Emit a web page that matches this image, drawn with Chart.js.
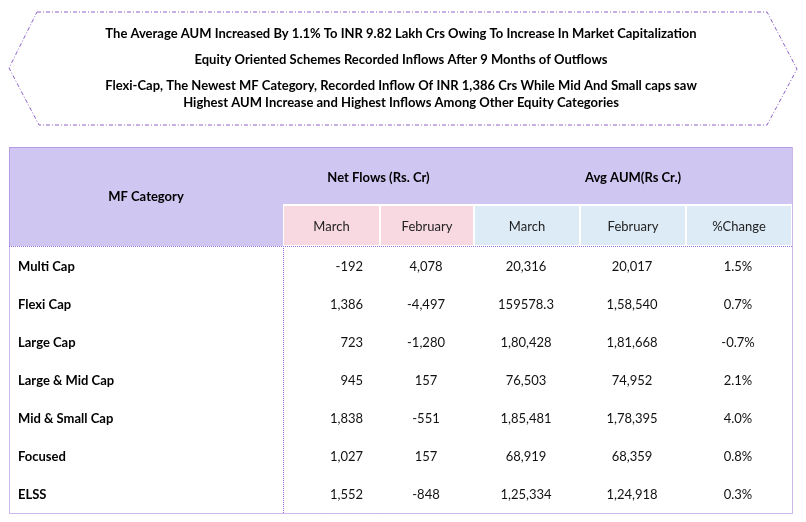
<!DOCTYPE html>
<html>
<head>
<meta charset="utf-8">
<script src="https://cdn.jsdelivr.net/npm/chart.js@4.4.1/dist/chart.umd.min.js"></script>
<style>
  html, body { margin: 0; padding: 0; background: #fff; }
  #wrap { position: relative; width: 806px; height: 522px; }
</style>
</head>
<body>
<div id="wrap"><canvas id="mfChart"></canvas></div>
<script>
// headline notes
const notes = [
  ['The Average AUM Increased By 1.1% To INR 9.82 Lakh Crs Owing To Increase In Market Capitalization'],
  ['Equity Oriented Schemes Recorded Inflows After 9 Months of Outflows'],
  ['Flexi-Cap, The Newest MF Category, Recorded Inflow Of INR 1,386 Crs While Mid And Small caps saw',
   'Highest AUM Increase and Highest Inflows Among Other Equity Categories']
];

// table data
const categories = ['Multi Cap', 'Flexi Cap', 'Large Cap', 'Large & Mid Cap', 'Mid & Small Cap', 'Focused', 'ELSS'];
const groupHeaders = ['Net Flows (Rs. Cr)', 'Avg AUM(Rs Cr.)'];
const columnHeaders = ['March', 'February', 'March', 'February', '%Change'];
const netFlowsMarch = ['-192', '1,386', '723', '945', '1,838', '1,027', '1,552'];
const netFlowsFeb = ['4,078', '-4,497', '-1,280', '157', '-551', '157', '-848'];
const aumMarch = ['20,316', '159578.3', '1,80,428', '76,503', '1,85,481', '68,919', '1,25,334'];
const aumFeb = ['20,017', '1,58,540', '1,81,668', '74,952', '1,78,395', '68,359', '1,24,918'];
const pctChange = ['1.5%', '0.7%', '-0.7%', '2.1%', '4.0%', '0.8%', '0.3%'];

// layout (x scale units)
const colEdges = [0, 97, 191, 297, 403, 509];
const colAnchor = [80, 143, 243, 349, 455];
const colAlign = ['right', 'center', 'center', 'center', 'center'];
const colFill = ['#f8d9e2', '#f8d9e2', '#ddebf6', '#ddebf6', '#ddebf6'];

const FONT = 'Lato, "Open Sans", sans-serif';
const series = [netFlowsMarch, netFlowsFeb, aumMarch, aumFeb, pctChange];
const TY = 1; // text nudge

const tablePlugin = {
  id: 'tablePlugin',
  afterDraw(chart) {
    const ctx = chart.ctx;
    const xs = chart.scales.x, ys = chart.scales.y;
    const ca = chart.chartArea;
    const L = 9, R = xs.getPixelForValue(colEdges[5]);
    const top = ca.top - 100, subTop = ca.top - 41, hdrBottom = ca.top - 1;
    ctx.save();

    // banner hexagon
    ctx.strokeStyle = '#9060c8';
    ctx.lineWidth = 1;
    ctx.setLineDash([4, 2, 1, 2]);
    ctx.beginPath();
    ctx.moveTo(37, 12); ctx.lineTo(767, 12); ctx.lineTo(797, 69);
    ctx.lineTo(767, 125); ctx.lineTo(39, 125); ctx.lineTo(9, 68);
    ctx.closePath();
    ctx.stroke();
    ctx.setLineDash([]);

    ctx.fillStyle = '#000';
    ctx.font = 'bold 13px ' + FONT;
    ctx.textAlign = 'center';
    ctx.textBaseline = 'middle';
    const noteY = [[33], [59], [85, 102]];
    notes.forEach((lines, i) => lines.forEach((t, j) => ctx.fillText(t, 401, noteY[i][j] + TY)));

    // header backgrounds
    ctx.fillStyle = '#cfc6f1';
    ctx.fillRect(L, top, R - L, hdrBottom - top);
    ctx.fillStyle = '#fff';
    ctx.fillRect(ca.left, subTop - 2, R - ca.left, hdrBottom - subTop + 2);
    for (let c = 0; c < 5; c++) {
      const x0 = xs.getPixelForValue(colEdges[c]), x1 = xs.getPixelForValue(colEdges[c + 1]);
      ctx.fillStyle = colFill[c];
      ctx.fillRect(x0 + 1, subTop, x1 - x0 - 2, hdrBottom - subTop - 1);
    }

    // header text
    ctx.fillStyle = '#000';
    ctx.font = 'bold 13px ' + FONT;
    ctx.fillText('MF Category', (L + ca.left) / 2, ca.top - 51 + TY);
    ctx.fillText(groupHeaders[0], (xs.getPixelForValue(colEdges[0]) + xs.getPixelForValue(colEdges[2])) / 2, ca.top - 70 + TY);
    ctx.fillText(groupHeaders[1], (xs.getPixelForValue(colEdges[2]) + xs.getPixelForValue(colEdges[5])) / 2, ca.top - 70 + TY);
    ctx.font = '13px ' + FONT;
    ctx.fillStyle = '#222';
    columnHeaders.forEach((h, c) => {
      const cx = (xs.getPixelForValue(colEdges[c]) + xs.getPixelForValue(colEdges[c + 1])) / 2;
      ctx.fillText(h, cx, ca.top - 21 + TY);
    });

    // row labels
    ctx.font = 'bold 13px ' + FONT;
    ctx.fillStyle = '#000';
    ctx.textAlign = 'left';
    categories.forEach((cat, i) => ctx.fillText(cat, 18, ys.getPixelForValue(i) + TY));

    // cell values
    ctx.font = '13px ' + FONT;
    ctx.fillStyle = '#111';
    chart.data.datasets.forEach((ds, c) => {
      ctx.textAlign = colAlign[c];
      chart.getDatasetMeta(c).data.forEach((pt, i) => ctx.fillText(series[c][i], pt.x, pt.y + TY));
    });

    // dotted borders
    ctx.strokeStyle = '#9a70d2';
    ctx.setLineDash([1, 1]);
    ctx.beginPath();
    ctx.rect(L + 0.5, top + 0.5, R - L, ca.bottom - top);
    ctx.moveTo(L, hdrBottom + 0.5); ctx.lineTo(R, hdrBottom + 0.5);
    ctx.moveTo(ca.left + 0.5, hdrBottom); ctx.lineTo(ca.left + 0.5, ca.bottom);
    ctx.stroke();
    ctx.restore();
  }
};

new Chart(document.getElementById('mfChart'), {
  type: 'scatter',
  data: {
    datasets: series.map((vals, c) => ({
      label: columnHeaders[c],
      data: vals.map((v, i) => ({ x: colAnchor[c], y: categories[i] })),
      pointRadius: 0,
      pointHoverRadius: 0
    }))
  },
  options: {
    responsive: true,
    maintainAspectRatio: false,
    animation: false,
    layout: { padding: { left: 283, right: 14, top: 247, bottom: 9 } },
    scales: {
      x: { type: 'linear', display: false, min: colEdges[0], max: colEdges[5] },
      y: { type: 'category', labels: categories, offset: true, display: false }
    },
    plugins: { legend: { display: false }, tooltip: { enabled: false } }
  },
  plugins: [tablePlugin]
});
</script>
</body>
</html>
